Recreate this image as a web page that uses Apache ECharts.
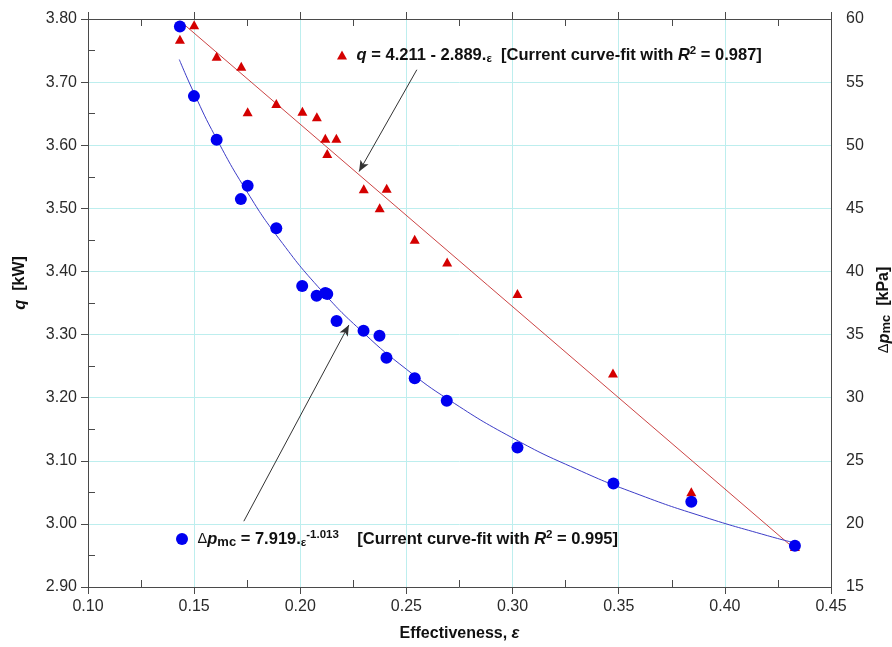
<!DOCTYPE html>
<html>
<head>
<meta charset="utf-8">
<title>Heat rate and pressure drop vs effectiveness</title>
<script src="https://cdn.jsdelivr.net/npm/echarts@6/dist/echarts.min.js"></script>
<style>
  html, body { margin: 0; padding: 0; background: #fff; }
  #chart { width: 892px; height: 647px; }
</style>
</head>
<body>
<div id="chart"></div>
<script>
// Measured heat rate q [kW] against effectiveness
const qEps = [0.1433, 0.1500, 0.1606, 0.1722, 0.1752, 0.1887, 0.2010, 0.2078, 0.2118, 0.2127,
              0.2170, 0.2299, 0.2374, 0.2407, 0.2539, 0.2692, 0.3023, 0.3473, 0.3842, 0.4330];
const qValues = [3.768, 3.791, 3.741, 3.725, 3.653, 3.666, 3.654, 3.645, 3.611, 3.587,
                 3.611, 3.531, 3.501, 3.532, 3.451, 3.415, 3.365, 3.239, 3.051, 2.964];

// Measured pressure drop Δp_mc [kPa] against effectiveness
const dpEps = [0.1433, 0.1499, 0.1606, 0.1720, 0.1752, 0.1887, 0.2009, 0.2077, 0.2118, 0.2127,
               0.2171, 0.2298, 0.2373, 0.2406, 0.2539, 0.2690, 0.3023, 0.3475, 0.3842, 0.4330];
const dpValues = [59.41, 53.89, 50.43, 45.73, 46.78, 43.43, 38.85, 38.08, 38.30, 38.22,
                  36.07, 35.31, 34.91, 33.16, 31.53, 29.76, 26.06, 23.20, 21.75, 18.26];

// Linear curve-fit for q (end points)
const qFitEps = [0.1433, 0.4330];
const qFitValues = [3.797, 2.960];

// Power-law curve-fit for Δp_mc (points along the curve)
const dpFitEps = [0.143, 0.150, 0.160, 0.175, 0.190, 0.210, 0.230, 0.250, 0.270, 0.300,
                  0.330, 0.360, 0.390, 0.420, 0.433];
const dpFitValues = [56.79, 54.11, 50.69, 46.29, 42.59, 38.48, 35.10, 32.25, 29.83, 26.81,
                     24.35, 22.29, 20.56, 19.07, 18.49];

// Axis ranges and ticks
const xRange = [0.10, 0.45], xStep = 0.05;
const xMinorTicks = [0.125, 0.175, 0.225, 0.275, 0.325, 0.375, 0.425];
const qRange = [2.90, 3.80], qStep = 0.10;
const qMinorTicks = [2.95, 3.05, 3.15, 3.25, 3.35, 3.45, 3.55, 3.65, 3.75];
const dpRange = [15, 60], dpStep = 5;

// Annotation arrows: [start, end] in data units
const qArrow = [[0.2549, 3.7196], [0.2277, 3.5583]];
const dpArrow = [[0.1734, 20.21], [0.2229, 35.76]];

const zip = (a, b) => a.map((v, i) => [v, b[i]]);

const FONT = '"Liberation Sans", Arial, Helvetica, sans-serif';
const AXIS_COLOR = '#4a4a4a';
const GRID_COLOR = '#bdeeee';
const LABEL_COLOR = '#2a2a2a';

const richStyles = {
  i: { fontStyle: 'italic', fontWeight: 'bold', fontSize: 16.5, fontFamily: FONT, color: '#111' },
  s: { fontSize: 11.5, fontWeight: 'bold', fontFamily: FONT, color: '#111', verticalAlign: 'bottom', lineHeight: 15 },
  sup: { fontSize: 11.5, fontWeight: 'bold', fontFamily: FONT, color: '#111', verticalAlign: 'top', lineHeight: 11 },
  sub: { fontSize: 13, fontWeight: 'bold', fontFamily: FONT, color: '#111', verticalAlign: 'bottom', lineHeight: 13 },
  d: { fontSize: 14.5, fontWeight: 'normal', fontFamily: FONT, color: '#111' }
};

const chart = echarts.init(document.getElementById('chart'), null, { renderer: 'canvas' });

const gridBox = { left: 88, right: 61, top: 19, bottom: 60 };

const majorX = (position) => ({
  type: 'value', position: position, min: xRange[0], max: xRange[1], interval: xStep,
  axisLine: { show: true, lineStyle: { color: AXIS_COLOR, width: 1 } },
  axisTick: { show: true, inside: false, length: 7, lineStyle: { color: AXIS_COLOR } },
  axisLabel: position === 'bottom' ? {
    show: true, margin: 12, fontSize: 16, fontFamily: FONT, color: LABEL_COLOR,
    formatter: v => v.toFixed(2)
  } : { show: false },
  splitLine: position === 'bottom' ? { show: true, lineStyle: { color: GRID_COLOR, width: 1 } } : { show: false }
});

const minorX = (position) => ({
  type: 'value', position: position, min: xRange[0], max: xRange[1], interval: xStep,
  axisLine: { show: false },
  axisTick: { show: true, inside: true, length: 7, customValues: xMinorTicks, lineStyle: { color: AXIS_COLOR } },
  axisLabel: { show: false },
  splitLine: { show: false }
});

const option = {
  animation: false,
  backgroundColor: '#ffffff',
  textStyle: { fontFamily: FONT },
  grid: Object.assign({ containLabel: false }, gridBox),
  xAxis: [
    Object.assign(majorX('bottom'), {
      name: 'Effectiveness, {i|ε}',
      nameLocation: 'middle',
      nameGap: 38,
      nameTextStyle: { fontSize: 16, fontWeight: 'bold', fontFamily: FONT, color: '#111', rich: richStyles }
    }),
    minorX('bottom'),
    majorX('top'),
    minorX('top')
  ],
  yAxis: [
    {
      type: 'value', position: 'left', min: qRange[0], max: qRange[1], interval: qStep,
      axisLine: { show: true, lineStyle: { color: AXIS_COLOR, width: 1 } },
      axisTick: { show: true, inside: false, length: 7, lineStyle: { color: AXIS_COLOR } },
      axisLabel: { show: true, margin: 11, fontSize: 16, fontFamily: FONT, color: LABEL_COLOR, formatter: v => v.toFixed(2) },
      splitLine: { show: true, lineStyle: { color: GRID_COLOR, width: 1 } }
    },
    {
      type: 'value', position: 'left', min: qRange[0], max: qRange[1], interval: qStep,
      axisLine: { show: false },
      axisTick: { show: true, inside: true, length: 7, customValues: qMinorTicks, lineStyle: { color: AXIS_COLOR } },
      axisLabel: { show: false },
      splitLine: { show: false }
    },
    {
      type: 'value', position: 'right', min: dpRange[0], max: dpRange[1], interval: dpStep,
      axisLine: { show: true, lineStyle: { color: AXIS_COLOR, width: 1 } },
      axisTick: { show: false },
      axisLabel: { show: true, margin: 15, fontSize: 16, fontFamily: FONT, color: LABEL_COLOR },
      splitLine: { show: false }
    }
  ],
  legend: [
    {
      data: ['q'], left: 337, top: 45, orient: 'horizontal',
      itemWidth: 10, itemHeight: 9, padding: 0,
      itemStyle: { opacity: 1 },
      textStyle: { fontSize: 16.5, fontWeight: 'bold', fontFamily: FONT, color: '#111', lineHeight: 20, rich: richStyles },
      formatter: () => ' {i|q} = 4.211 - 2.889.{s|ε}  [Current curve-fit with {i|R}{sup|2} = 0.987]',
      selectedMode: false
    },
    {
      data: ['Δp'], left: 176, top: 529, orient: 'horizontal',
      itemWidth: 12, itemHeight: 12, padding: 0,
      itemStyle: { opacity: 1 },
      textStyle: { fontSize: 16.5, fontWeight: 'bold', fontFamily: FONT, color: '#111', lineHeight: 20, rich: richStyles },
      formatter: () => ' {d|Δ}{i|p}{sub|mc} = 7.919.{s|ε}{sup|-1.013}    [Current curve-fit with {i|R}{sup|2} = 0.995]',
      selectedMode: false
    }
  ],
  graphic: [
    {
      type: 'text', x: 20, y: 283, rotation: Math.PI / 2,
      style: {
        text: '{i|q}  [kW]', align: 'center', verticalAlign: 'middle',
        fontSize: 16, fontWeight: 'bold', fontFamily: FONT, fill: '#111', rich: richStyles
      }
    },
    {
      type: 'text', x: 884, y: 310, rotation: Math.PI / 2,
      style: {
        text: '{d|Δ}{i|p}{sub|mc}  [kPa]', align: 'center', verticalAlign: 'middle',
        fontSize: 16, fontWeight: 'bold', fontFamily: FONT, fill: '#111', rich: richStyles
      }
    }
  ],
  series: [
    {
      name: 'q fit', type: 'line', xAxisIndex: 0, yAxisIndex: 0,
      data: zip(qFitEps, qFitValues), showSymbol: false, symbol: 'none',
      lineStyle: { color: '#cc4444', width: 1 }, z: 2, silent: true,
      markLine: {
        silent: true, symbol: ['none', 'arrow'], symbolSize: [7, 11],
        label: { show: false },
        lineStyle: { color: '#333', width: 1, type: 'solid' },
        data: [[{ coord: qArrow[0] }, { coord: qArrow[1] }]]
      }
    },
    {
      name: 'Δp fit', type: 'line', xAxisIndex: 0, yAxisIndex: 2,
      data: zip(dpFitEps, dpFitValues), showSymbol: false, symbol: 'none', smooth: true,
      lineStyle: { color: '#3d3dc8', width: 1 }, z: 2, silent: true,
      markLine: {
        silent: true, symbol: ['none', 'arrow'], symbolSize: [7, 11],
        label: { show: false },
        lineStyle: { color: '#333', width: 1, type: 'solid' },
        data: [[{ coord: dpArrow[0] }, { coord: dpArrow[1] }]]
      }
    },
    {
      name: 'q', type: 'scatter', xAxisIndex: 0, yAxisIndex: 0,
      data: zip(qEps, qValues), symbol: 'triangle', symbolSize: [10, 9],
      itemStyle: { color: '#d40000', opacity: 1 }, z: 3
    },
    {
      name: 'Δp', type: 'scatter', xAxisIndex: 0, yAxisIndex: 2,
      data: zip(dpEps, dpValues), symbol: 'circle', symbolSize: 12,
      itemStyle: { color: '#0000f0', opacity: 1 }, z: 4
    }
  ]
};

chart.setOption(option);
</script>
</body>
</html>
